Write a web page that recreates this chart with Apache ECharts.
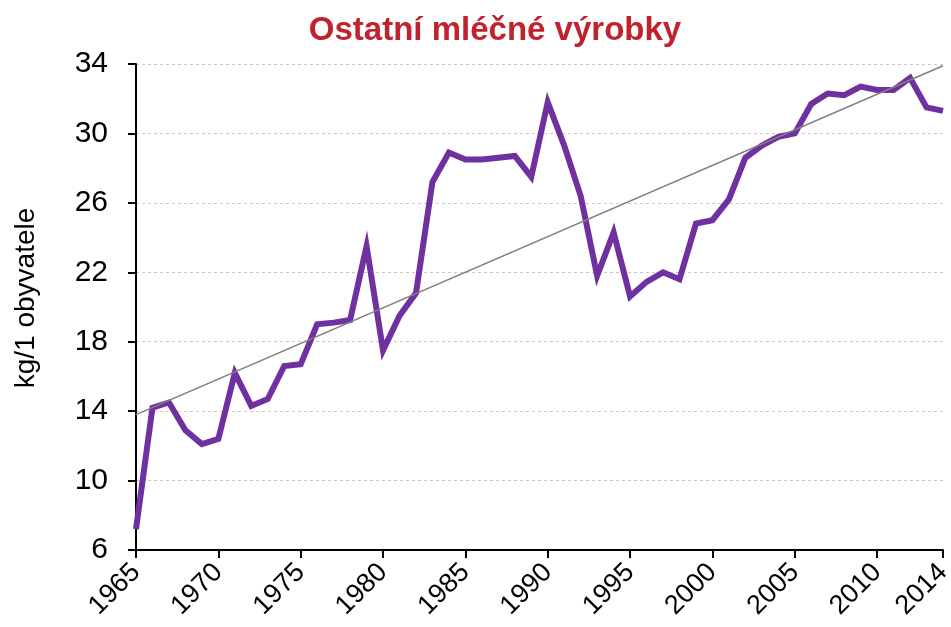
<!DOCTYPE html>
<html>
<head>
<meta charset="utf-8">
<script src="https://cdn.jsdelivr.net/npm/echarts@6/dist/echarts.min.js"></script>
<style>
  html, body { margin: 0; padding: 0; background: #fff; }
  #chart { width: 951px; height: 627px; }
</style>
</head>
<body>
<div id="chart"></div>
<script>
// roky 1965–2014
const years = []
for (let y = 1965; y <= 2014; y++) years.push(String(y))

// spotřeba ostatních mléčných výrobků (kg/1 obyvatele)
const consumption = [
  7.2, 14.2, 14.5, 12.9, 12.1, 12.4, 16.2, 14.3, 14.7, 16.6,
  16.7, 19.0, 19.1, 19.25, 23.5, 17.5, 19.5, 20.8, 27.2, 28.9,
  28.5, 28.5, 28.6, 28.7, 27.5, 31.8, 29.3, 26.4, 21.8, 24.3,
  20.6, 21.45, 22.0, 21.6, 24.8, 25.0, 26.2, 28.6, 29.3, 29.8,
  30.0, 31.7, 32.3, 32.2, 32.7, 32.5, 32.5, 33.2, 31.5, 31.3,
]

// lineární trend – hodnoty na začátku a na konci
const trendEnds = [13.8, 33.9]

const yTicks = [6, 10, 14, 18, 22, 26, 30, 34]

const trendData = years.map((_, i) =>
  i === 0 ? trendEnds[0] : i === years.length - 1 ? trendEnds[1] : null
)

const showYear = (i) => i % 5 === 0 || i === years.length - 1

const chart = echarts.init(document.getElementById('chart'))
const option = {
  animation: false,
  textStyle: { fontFamily: 'Liberation Sans, Arial, sans-serif' },
  title: {
    text: 'Ostatní mléčné výrobky',
    left: 490,
    textAlign: 'center',
    top: 9,
    textStyle: {
      color: '#C1222B',
      fontSize: 33,
      fontWeight: 'bold',
      fontFamily: 'Liberation Sans, Arial, sans-serif',
    },
  },
  grid: {
    left: 136,
    right: 8,
    top: 64,
    bottom: 77,
    containLabel: false,
    outerBoundsMode: 'none',
  },
  xAxis: {
    type: 'category',
    data: years,
    boundaryGap: false,
    axisLine: { lineStyle: { color: '#000', width: 2 } },
    axisTick: {
      interval: showYear,
      length: 8,
      lineStyle: { color: '#000', width: 2 },
    },
    axisLabel: {
      interval: showYear,
      rotate: 45,
      margin: 18,
      color: '#000',
      fontSize: 27,
    },
    splitLine: { show: false },
  },
  yAxis: {
    type: 'value',
    min: yTicks[0],
    max: yTicks[yTicks.length - 1],
    interval: 4,
    name: 'kg/1 obyvatele',
    nameLocation: 'middle',
    nameGap: 96,
    nameTextStyle: { color: '#000', fontSize: 28, padding: [0, 0, 0, 18] },
    axisLine: { show: true, lineStyle: { color: '#000', width: 2 } },
    axisTick: { show: true, length: 8, lineStyle: { color: '#000', width: 2 } },
    axisLabel: { color: '#000', fontSize: 30, margin: 28 },
    splitLine: {
      show: true,
      lineStyle: { color: '#c8c8c8', type: [3, 3], width: 1 },
    },
  },
  series: [
    {
      name: 'trend',
      type: 'line',
      data: trendData,
      connectNulls: true,
      symbol: 'none',
      lineStyle: { color: '#808080', width: 1.5 },
      z: 3,
    },
    {
      name: 'spotřeba',
      type: 'line',
      data: consumption,
      symbol: 'none',
      lineStyle: { color: '#7030A0', width: 6, join: 'miter' },
      z: 2,
    },
  ],
}
chart.setOption(option)
</script>
</body>
</html>
